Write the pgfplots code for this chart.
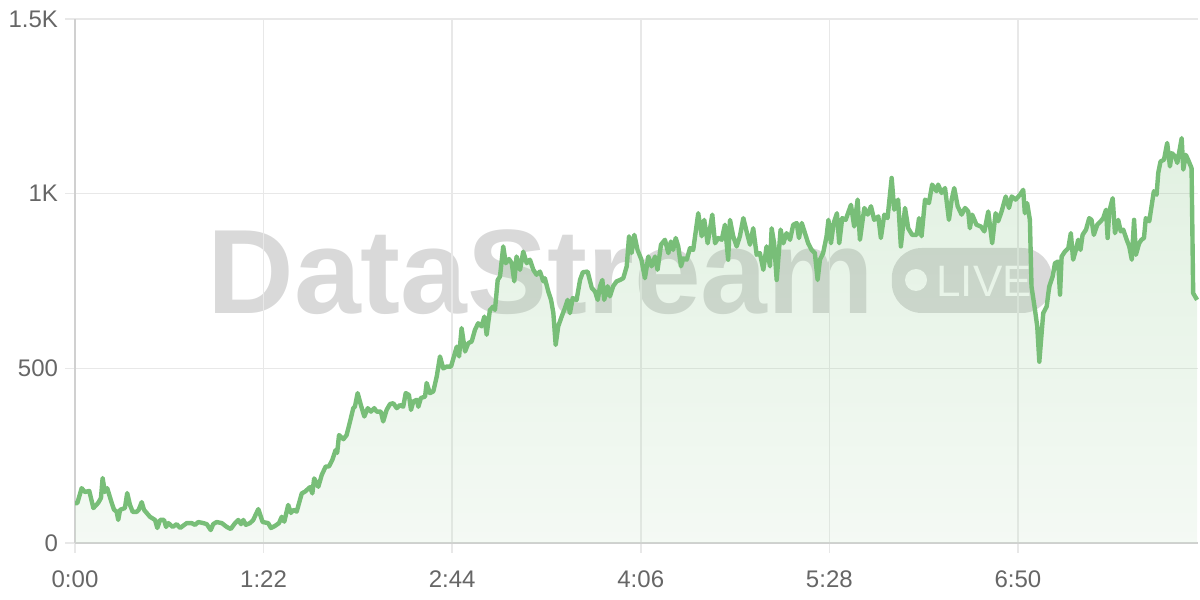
\documentclass[border=0pt]{standalone}
\usepackage{pgfplots}
\pgfplotsset{compat=1.18}
\usepackage{pgfplotstable}
\usepackage{fontspec}
\setmainfont{Liberation Sans}
\definecolor{linegreen}{HTML}{78BE78}
\definecolor{fillbot}{RGB}{205,230,205}
\definecolor{gridgray}{HTML}{E8E8E8}
\definecolor{axisgray}{HTML}{D0D0D0}
\definecolor{tickgray}{HTML}{666666}
\definecolor{wmgray}{HTML}{D9D9D9}

\pgfplotstableread{
t v
0 114
1.0 114
2.9 157
4.3 146
6.2 149
8.0 100
10.1 115
11.3 129
12.0 186
13.0 146
14.0 157
16.0 114
17.0 95
18.1 90
18.8 66
19.6 95
21.7 100
22.7 143
23.9 109
25.1 89
26.8 89
27.7 95
29.0 117
30.0 95
32.6 75
34.8 66
35.8 43
37.0 66
38.7 66
39.6 46
40.6 57
42.5 46
44.2 54
45.7 43
48.6 57
50.7 57
52.2 52
53.6 60
55.8 57
57.3 54
59.0 37
60.1 54
61.6 60
63.8 57
66.0 46
67.7 40
69.6 57
71.0 66
72.2 54
73.2 66
74.3 52
76.1 57
77.5 66
79.7 97
81.6 60
84.0 57
85.2 43
87.0 49
88.7 57
89.9 75
91.0 61
92.7 109
93.9 86
94.9 95
96.4 90
98.6 142
100.0 147
102.2 160
103.2 142
104.0 185
105.8 161
107.3 195
109.0 219
110.4 219
111.9 238
113.3 266
114.0 258
114.8 309
116.7 297
118.1 309
119.6 348
121.0 386
121.7 390
122.9 429
124.3 395
125.8 362
127.3 386
128.7 376
130.1 386
131.2 376
133.0 376
134.0 348
135.5 381
137.0 398
138.4 400
139.9 386
141.3 395
142.7 390
143.8 429
145.2 424
146.1 381
147.1 405
148.6 410
149.3 390
150.4 415
152.2 419
152.9 458
154.3 429
155.8 434
157.3 477
158.7 534
160.1 500
161.6 505
163.5 505
166.0 562
167.0 534
168.1 615
169.6 548
171.0 572
172.5 577
173.9 610
175.3 629
176.8 620
178.0 648
179.0 596
180.4 667
181.9 677
182.6 667
183.8 753
184.8 763
186.2 849
187.3 801
188.7 813
189.9 801
191.0 749
192.0 820
193.5 782
194.9 834
196.4 801
197.8 811
199.3 782
200.7 768
202.2 777
203.6 749
204.3 758
205.8 720
207.0 696
208.0 658
209.0 567
210.1 620
211.6 648
213.0 672
214.2 696
215.2 658
216.4 701
218.1 696
219.6 753
220.8 775
222.9 777
224.7 730
226.1 720
227.3 696
228.3 735
229.3 753
230.1 696
231.6 735
232.6 706
234.0 735
235.5 749
237.0 753
238.4 758
239.9 792
240.9 878
242.0 830
243.2 882
244.6 839
246.3 811
247.8 758
249.3 820
250.7 792
252.2 820
253.3 782
254.8 854
256.5 868
258.0 830
259.1 863
260.1 839
261.2 873
262.3 849
263.5 792
264.5 815
266.0 811
267.4 844
268.8 839
271.0 944
272.5 878
273.6 925
275.1 858
277.1 940
278.3 858
279.7 873
281.2 868
282.6 911
284.0 811
284.8 925
286.2 878
287.7 849
289.1 878
290.6 930
292.0 892
293.5 854
294.9 901
296.4 825
297.8 830
299.3 782
300.7 849
302.2 792
302.9 901
304.0 858
305.1 753
306.8 897
308.0 858
309.4 887
310.9 868
312.3 911
313.8 916
314.8 873
316.0 916
317.4 887
318.8 858
320.3 839
321.7 830
322.9 753
323.9 811
325.3 830
326.8 878
327.6 925
328.7 858
329.9 916
331.3 944
332.3 858
333.6 930
335.1 925
337.4 968
338.8 906
340.3 983
341.3 868
343.2 959
344.7 940
346.1 964
347.5 925
349.3 935
350.4 873
351.9 940
353.3 930
355.1 1045
356.2 954
357.9 983
359.1 849
360.9 959
362.3 901
364.0 882
366.0 882
367.0 930
368.1 878
369.6 983
371.3 973
372.7 1026
374.6 1007
375.3 1026
376.8 1002
378.3 1016
380.0 925
381.2 983
382.3 1016
383.8 964
385.5 940
387.0 959
388.4 949
389.1 901
390.1 940
392.0 911
393.9 906
395.4 892
397.1 949
398.8 858
400.3 944
401.4 921
402.9 949
404.7 992
406.1 959
407.3 992
409.0 983
410.9 997
412.3 1011
413.0 944
414.0 973
415.2 925
415.9 734
417.4 668
418.4 620
419.3 519
420.3 601
421.0 658
422.5 677
423.6 734
425.1 763
426.1 801
427.5 806
428.3 711
429.0 820
430.4 834
431.9 844
433.0 887
434.0 811
435.2 839
436.2 868
437.2 839
438.1 882
439.6 897
441.0 930
442.0 925
443.0 882
444.5 911
446.0 921
447.1 930
448.3 954
449.0 873
449.7 949
451.2 987
452.2 887
453.6 925
454.7 892
455.8 897
457.3 868
458.4 849
459.5 811
460.5 925
461.3 825
462.7 858
463.7 868
464.8 873
465.6 930
467.1 921
468.1 964
469.1 1007
470.3 997
471.0 1059
472.0 1092
473.5 1097
474.9 1145
476.1 1078
476.9 1116
478.3 1107
479.3 1088
481.2 1159
481.9 1069
483.0 1111
484.0 1097
485.5 1073
486.2 715
487.9 696
}\datatable

\begin{document}
\begin{tikzpicture}
\useasboundingbox (0,0) rectangle (600bp,300bp);
% watermark
\node[anchor=base west, inner sep=0, text=wmgray, font=\fontsize{60bp}{62bp}\selectfont\bfseries]
  at (103.5bp,143.25bp) {DataStream};
\fill[wmgray, rounded corners=15bp] (445.9bp,143.5bp) rectangle (526bp,176bp);
\fill[white] (458bp,160bp) circle[radius=5.5bp];
\node[anchor=base west, inner sep=0, text=white, font=\fontsize{22bp}{24bp}\selectfont]
  at (468bp,151.5bp) {LIVE};
\begin{axis}[
  at={(37.5bp,28.5bp)}, anchor=south west,
  scale only axis, width=561.5bp, height=262bp,
  xmin=0, xmax=488.3, ymin=0, ymax=1500,
  clip=false,
  axis lines*=left,
  axis line style={axisgray, line width=1bp},
  xtick={0,82,164,246,328,410},
  xticklabels={0:00,1:22,2:44,4:06,5:28,6:50},
  ytick={0,500,1000,1500},
  yticklabels={0,500,1K,1.5K},
  grid=major,
  major grid style={gridgray, line width=0.8bp},
  tick align=outside,
  major tick length=5bp,
  tick style={gridgray, line width=0.8bp},
  tick label style={font=\fontsize{12bp}{14bp}\selectfont, text=tickgray},
  /pgf/number format/assume math mode=true,
  xticklabel style={yshift=-5.5bp},
  yticklabel style={xshift=0bp},
]
\addplot[draw=none, fill opacity=0.22, top color=linegreen, bottom color=fillbot] table[x=t,y=v] {\datatable} \closedcycle;
\addplot[linegreen, line width=2.2bp, line join=round, mark=none] table[x=t,y=v] {\datatable};
\end{axis}
\end{tikzpicture}
\end{document}
